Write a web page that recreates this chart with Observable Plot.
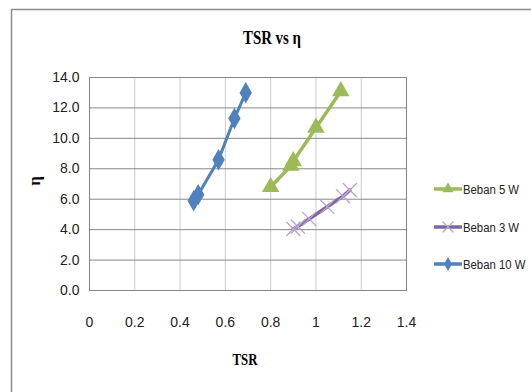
<!DOCTYPE html>
<html>
<head>
<meta charset="utf-8">
<script src="https://cdn.jsdelivr.net/npm/d3@7"></script>
<script src="https://cdn.jsdelivr.net/npm/@observablehq/plot@0.6"></script>
<style>
  html, body { margin: 0; padding: 0; background: #fff; }
  #chart { width: 531px; height: 392px; overflow: hidden; }
</style>
</head>
<body>
<div id="chart"></div>
<script>
// ---- data ----
const xTicks = [0, 0.2, 0.4, 0.6, 0.8, 1.0, 1.2, 1.4];
const yTicks = [0, 2, 4, 6, 8, 10, 12, 14];

const seriesNames = ["Beban 5 W", "Beban 3 W", "Beban 10 W"];
const seriesColors = ["#9BBB59", "#8064A2", "#4F81BD"];

const tsr5 = [0.80, 0.89, 0.90, 1.00, 1.11];
const eta5 = [6.8, 8.2, 8.5, 10.7, 13.1];

const tsr3 = [0.90, 0.92, 0.97, 1.05, 1.12, 1.15];
const eta3 = [4.05, 4.2, 4.7, 5.5, 6.2, 6.6];

const tsr10 = [0.46, 0.48, 0.57, 0.64, 0.69];
const eta10 = [5.9, 6.3, 8.6, 11.3, 13.0];

const toRows = (xs, ys) => xs.map((x, i) => ({x, y: ys[i]}));
const s5 = toRows(tsr5, eta5);
const s3 = toRows(tsr3, eta3);
const s10 = toRows(tsr10, eta10);

const tickFont = "'Liberation Sans Narrow', 'Arial Narrow', 'Liberation Sans', sans-serif";
const xFmt = d => String(+d.toFixed(1));
const yFmt = d3.format(".1f");

const plot = Plot.plot({
  width: 531,
  height: 392,
  marginLeft: 89,
  marginRight: 125,
  marginTop: 77,
  marginBottom: 102,
  style: {background: "#fff", fontFamily: tickFont, fontSize: "14px", color: "#222", overflow: "visible"},
  x: {domain: [0, 1.4], label: null},
  y: {domain: [0, 14], label: null},
  marks: [
    Plot.gridX(xTicks, {stroke: "#d4d4d4", strokeOpacity: 1, strokeWidth: 1.2}),
    Plot.gridY(yTicks, {stroke: "#868686", strokeOpacity: 1}),
    Plot.frame({stroke: "#868686"}),
    Plot.axisX(xTicks, {tickSize: 0, tickPadding: 27, tickFormat: xFmt, label: null}),
    Plot.axisY(yTicks, {tickSize: 0, tickPadding: 10, tickFormat: yFmt, label: null}),
    // Beban 5 W
    Plot.line(s5, {x: "x", y: "y", stroke: seriesColors[0], strokeWidth: 3.5}),
    Plot.dot(s5, {x: "x", y: "y", symbol: "triangle", r: 6.5, fill: seriesColors[0]}),
    // Beban 3 W
    Plot.line(s3, {x: "x", y: "y", stroke: seriesColors[1], strokeWidth: 3.5}),
    Plot.dot(s3, {x: "x", y: "y", symbol: "times", r: 6.5, stroke: "#b7a6d0", strokeWidth: 1.3}),
    // Beban 10 W
    Plot.line(s10, {x: "x", y: "y", stroke: seriesColors[2], strokeWidth: 3}),
    Plot.dot(s10, {x: "x", y: "y", symbol: "diamond", r: 6.5, fill: seriesColors[2]})
  ]
});

document.getElementById("chart").appendChild(plot);

const svg = d3.select(plot);

// outer chart frame (extends beyond the right and bottom edges)
svg.append("path")
  .attr("d", "M11.5,392 V9.5 H531")
  .attr("fill", "none")
  .attr("stroke", "#8c8c8c")
  .attr("stroke-width", 1.5);

// title
svg.append("text")
  .attr("x", 272).attr("y", 44)
  .attr("text-anchor", "middle")
  .attr("font-family", "'Liberation Serif', 'Times New Roman', serif")
  .attr("font-weight", "bold")
  .attr("font-size", 19)
  .attr("textLength", 58)
  .attr("lengthAdjust", "spacingAndGlyphs")
  .attr("fill", "#000")
  .text("TSR vs η");

// x axis title
svg.append("text")
  .attr("x", 245).attr("y", 365)
  .attr("text-anchor", "middle")
  .attr("font-family", "'Liberation Serif', 'Times New Roman', serif")
  .attr("font-weight", "bold")
  .attr("font-size", 16)
  .attr("textLength", 25)
  .attr("lengthAdjust", "spacingAndGlyphs")
  .attr("fill", "#000")
  .text("TSR");

// y axis title
svg.append("text")
  .attr("transform", "translate(40,181) rotate(-90)")
  .attr("text-anchor", "middle")
  .attr("font-family", "'Liberation Serif', 'Times New Roman', serif")
  .attr("font-weight", "bold")
  .attr("font-size", 17)
  .attr("fill", "#000")
  .text("η");

// legend
const legendY = [189, 227, 264];
const legendSymbols = [d3.symbolTriangle, d3.symbolTimes, d3.symbolDiamond];
const lg = svg.append("g").attr("text-anchor", "start");
seriesNames.forEach((name, i) => {
  const g = lg.append("g").attr("transform", `translate(0,${legendY[i]})`);
  g.append("line").attr("x1", 434).attr("x2", 462).attr("y1", 0).attr("y2", 0)
    .attr("stroke", seriesColors[i]).attr("stroke-width", 3.5);
  const sym = d3.symbol(legendSymbols[i], i === 1 ? 80 : 55)();
  const p = g.append("path").attr("d", sym).attr("transform", "translate(448,0)");
  if (i === 1) p.attr("fill", "none").attr("stroke", "#b7a6d0").attr("stroke-width", 1.2);
  else p.attr("fill", seriesColors[i]);
  // condensed like the narrow font in the reference
  g.append("text")
    .attr("transform", "translate(463,0) scale(0.84,1)")
    .attr("x", 0).attr("y", 0).attr("dy", "0.35em")
    .attr("text-anchor", "start")
    .attr("font-family", tickFont).attr("font-size", 13.5).attr("fill", "#222")
    .text(name);
});
</script>
</body>
</html>
